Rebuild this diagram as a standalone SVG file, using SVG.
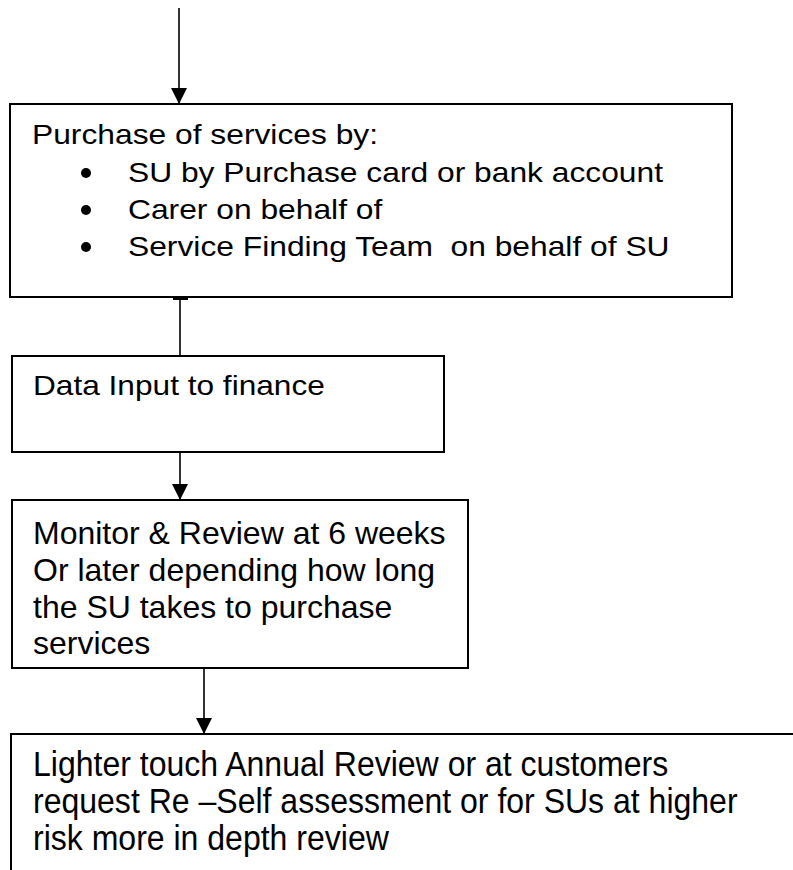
<svg xmlns="http://www.w3.org/2000/svg" width="793" height="870" viewBox="0 0 793 870">
  <style>
    .box { fill: #ffffff; stroke: #000000; stroke-width: 2; }
    .open { fill: none; stroke: #000000; stroke-width: 2; }
    .edge { fill: none; stroke: #000000; stroke-width: 1.6; }
    text { font-family: "Liberation Sans", Arial, sans-serif; fill: #000000; }
    .wide { font-size: 28px; }
    .normal { font-size: 32px; }
    .tall { font-size: 35px; }
  </style>
  <defs>
    <marker id="arrow" viewBox="0 0 10 10" refX="10" refY="5" markerWidth="16" markerHeight="16" markerUnits="userSpaceOnUse" orient="auto">
      <path d="M0,0 L10,5 L0,10 Z" fill="#000000"/>
    </marker>
  </defs>

  <!-- purchase of services -->
  <g id="purchase">
    <rect class="box" x="10" y="104" width="722" height="193"/>
    <text class="wide" transform="translate(32 144) scale(1.135 1)">Purchase of services by:</text>
    <circle cx="86" cy="173" r="5"/>
    <text class="wide" transform="translate(128 182) scale(1.135 1)">SU by Purchase card or bank account</text>
    <circle cx="86" cy="210" r="5"/>
    <text class="wide" transform="translate(128 219) scale(1.135 1)">Carer on behalf of</text>
    <circle cx="86" cy="247" r="5"/>
    <text class="wide" transform="translate(128 256) scale(1.135 1)" xml:space="preserve">Service Finding Team  on behalf of SU</text>
  </g>

  <!-- data input -->
  <g id="data-input">
    <rect class="box" x="12" y="356" width="432" height="96"/>
    <text class="wide" transform="translate(33 395) scale(1.13 1)">Data Input to finance</text>
  </g>

  <!-- monitor and review -->
  <g id="monitor">
    <rect class="box" x="12" y="500" width="456" height="168"/>
    <text class="normal" x="33" y="544">Monitor &amp; Review at 6 weeks</text>
    <text class="normal" x="33" y="581">Or later depending how long</text>
    <text class="normal" x="33" y="618">the SU takes to purchase</text>
    <text class="normal" x="33" y="654">services</text>
  </g>

  <!-- annual review (open box running past the page edge) -->
  <g id="annual-review">
    <path class="open" d="M11,870 L11,734 L800,734"/>
    <text class="tall" transform="translate(33 776) scale(0.915 1)">Lighter touch Annual Review or at customers</text>
    <text class="tall" transform="translate(33 813) scale(0.915 1)">request Re –Self assessment or for SUs at higher</text>
    <text class="tall" transform="translate(33 850) scale(0.915 1)">risk more in depth review</text>
  </g>

  <!-- connectors -->
  <g id="connectors">
    <line class="edge" x1="179" y1="8" x2="179" y2="104" marker-end="url(#arrow)"/>
    <line class="edge" x1="180" y1="355" x2="180" y2="297"/>
    <rect x="173" y="297" width="15" height="3" fill="#000000"/>
    <line class="edge" x1="180" y1="452" x2="180" y2="500" marker-end="url(#arrow)"/>
    <line class="edge" x1="204" y1="668" x2="204" y2="734" marker-end="url(#arrow)"/>
  </g>
</svg>
